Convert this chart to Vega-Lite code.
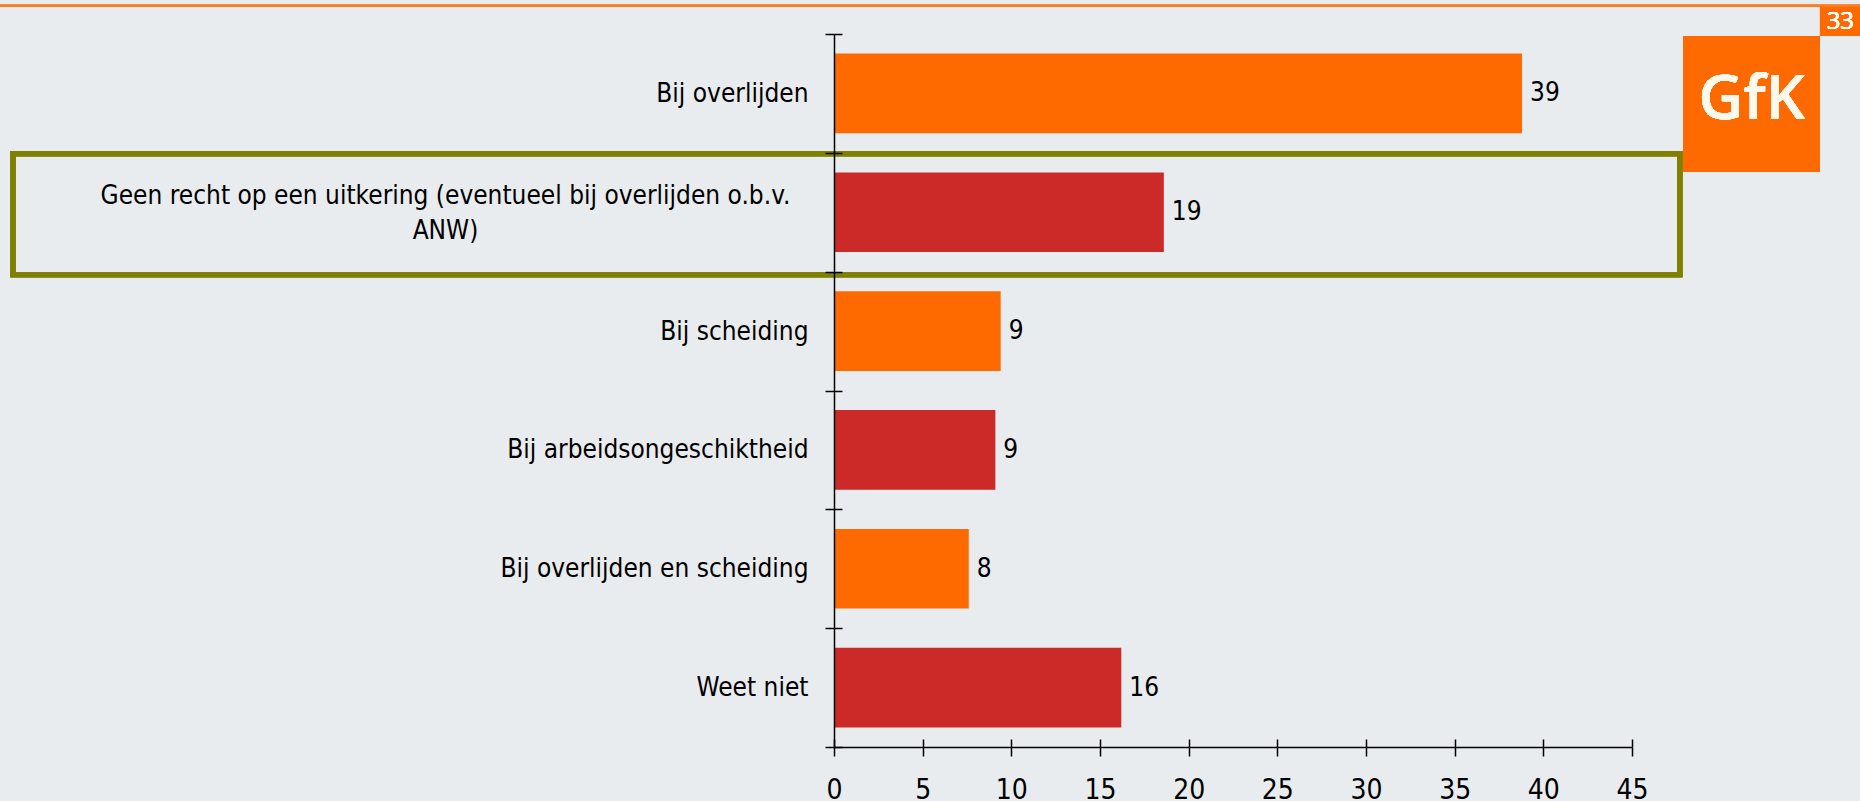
{
  "$schema": "https://vega.github.io/schema/vega-lite/v6.json",
  "width": 798,
  "height": 713,
  "autosize": "none",
  "padding": {"left": 834, "top": 34, "right": 228, "bottom": 54},
  "background": "#E9ECEE",
  "config": {"view": {"stroke": null}, "font": "DejaVu Sans Condensed"},
  "data": {"values": [
    {"categorie": "Bij overlijden", "waarde": 38.8, "label": "39", "groep": "oranje"},
    {"categorie": "Geen recht op een uitkering (eventueel bij overlijden o.b.v. ANW)", "waarde": 18.6, "label": "19", "groep": "rood"},
    {"categorie": "Bij scheiding", "waarde": 9.4, "label": "9", "groep": "oranje"},
    {"categorie": "Bij arbeidsongeschiktheid", "waarde": 9.1, "label": "9", "groep": "rood"},
    {"categorie": "Bij overlijden en scheiding", "waarde": 7.6, "label": "8", "groep": "oranje"},
    {"categorie": "Weet niet", "waarde": 16.2, "label": "16", "groep": "rood"}
  ]},
  "encoding": {
    "y": {
      "field": "categorie", "type": "nominal", "sort": null,
      "scale": {
        "domain": ["Bij overlijden", "Geen recht op een uitkering (eventueel bij overlijden o.b.v. ANW)", "Bij scheiding", "Bij arbeidsongeschiktheid", "Bij overlijden en scheiding", "Weet niet"],
        "paddingInner": 0, "paddingOuter": 0
      },
      "axis": {
        "orient": "left", "title": null, "tickBand": "extent", "domainColor": "black", "tickColor": "black",
        "domainWidth": 1.5, "tickWidth": 1.5, "tickSize": 9,
        "labelFontSize": 26, "labelColor": "black", "labelLimit": 900, "labelLineHeight": 35,
        "labelExpr": "datum.value == 'Geen recht op een uitkering (eventueel bij overlijden o.b.v. ANW)' ? ['Geen recht op een uitkering (eventueel bij overlijden o.b.v.', 'ANW)'] : datum.label",
        "labelAlign": {"condition": {"test": "datum.value == 'Geen recht op een uitkering (eventueel bij overlijden o.b.v. ANW)'", "value": "center"}, "value": "right"},
        "labelPadding": {"condition": {"test": "datum.value == 'Geen recht op een uitkering (eventueel bij overlijden o.b.v. ANW)'", "value": 380}, "value": 17},
        "labelOffset": {"condition": {"test": "datum.value == 'Geen recht op een uitkering (eventueel bij overlijden o.b.v. ANW)'", "value": -17}, "value": 0},
        "zindex": 1
      }
    },
    "x": {
      "field": "waarde", "type": "quantitative",
      "scale": {"domain": [0, 45], "nice": false, "zero": true},
      "axis": {
        "orient": "bottom", "title": null, "values": [0, 5, 10, 15, 20, 25, 30, 35, 40, 45], "grid": false,
        "domainColor": "black", "tickColor": "black", "domainWidth": 1.5, "tickWidth": 1.5, "tickSize": 9,
        "labelFontSize": 28, "labelColor": "black", "labelPadding": 20, "labelFlush": false, "labelOverlap": false, "zindex": 1
      }
    }
  },
  "resolve": {"axis": {"x": "independent", "y": "independent"}},
  "layer": [
    {
      "mark": {"type": "bar", "height": {"band": 0.67}},
      "encoding": {
        "color": {"field": "groep", "type": "nominal", "scale": {"domain": ["oranje", "rood"], "range": ["#FF6A00", "#CC2929"]}, "legend": null}
      }
    },
    {
      "mark": {"type": "text", "align": "left", "baseline": "middle", "dx": 8, "fontSize": 26, "color": "black"},
      "encoding": {
        "text": {"field": "label"},
        "y": {"field": "categorie", "type": "nominal", "sort": null,
          "axis": {"orient": "left", "title": null, "tickBand": "extent", "labels": false, "domain": false, "tickColor": "black", "tickWidth": 1.5, "tickSize": -8, "zindex": 1}},
        "x": {"field": "waarde", "type": "quantitative",
          "axis": {"orient": "bottom", "title": null, "values": [0, 5, 10, 15, 20, 25, 30, 35, 40, 45], "labels": false, "domain": false, "grid": false, "tickColor": "black", "tickWidth": 1.5, "tickSize": -8, "zindex": 1}}
      }
    },
    {
      "mark": {"type": "rect", "filled": false, "stroke": "#808000", "strokeWidth": 5, "height": {"band": 1.02}, "yOffset": 2},
      "encoding": {
        "y": {"datum": "Geen recht op een uitkering (eventueel bij overlijden o.b.v. ANW)", "axis": null},
        "x": {"datum": -46.3, "axis": null}, "x2": {"datum": 47.7}
      }
    },
    {
      "mark": {"type": "rect", "fill": "#FF6A00", "height": {"band": 1.145}, "yOffset": 10.6},
      "encoding": {"y": {"datum": "Bij overlijden", "axis": null}, "x": {"datum": 47.9, "axis": null}, "x2": {"datum": 55.6}}
    },
    {
      "mark": {"type": "text", "align": "center", "baseline": "middle", "font": "Open Sans", "fontWeight": 600, "fontSize": 62, "fill": "#FFF8EC", "yOffset": 7},
      "encoding": {"y": {"datum": "Bij overlijden", "axis": null}, "x": {"datum": 51.75, "axis": null}, "text": {"value": "GfK"}}
    },
    {
      "mark": {"type": "rect", "fill": "#FF6A00", "height": {"band": 0.244}, "yOffset": -72},
      "encoding": {"y": {"datum": "Bij overlijden", "axis": null}, "x": {"datum": 55.6, "axis": null}, "x2": {"datum": 57.9}}
    },
    {
      "mark": {"type": "text", "align": "center", "baseline": "middle", "font": "Open Sans", "fontSize": 24, "fill": "white", "yOffset": -71},
      "encoding": {"y": {"datum": "Bij overlijden", "axis": null}, "x": {"datum": 56.75, "axis": null}, "text": {"value": "33"}}
    },
    {
      "mark": {"type": "rect", "fill": "#FF7A1A", "height": {"band": 0.02}, "yOffset": -87.5},
      "encoding": {"y": {"datum": "Bij overlijden", "axis": null}, "x": {"datum": -47.1, "axis": null}, "x2": {"datum": 57.9}}
    }
  ]
}
